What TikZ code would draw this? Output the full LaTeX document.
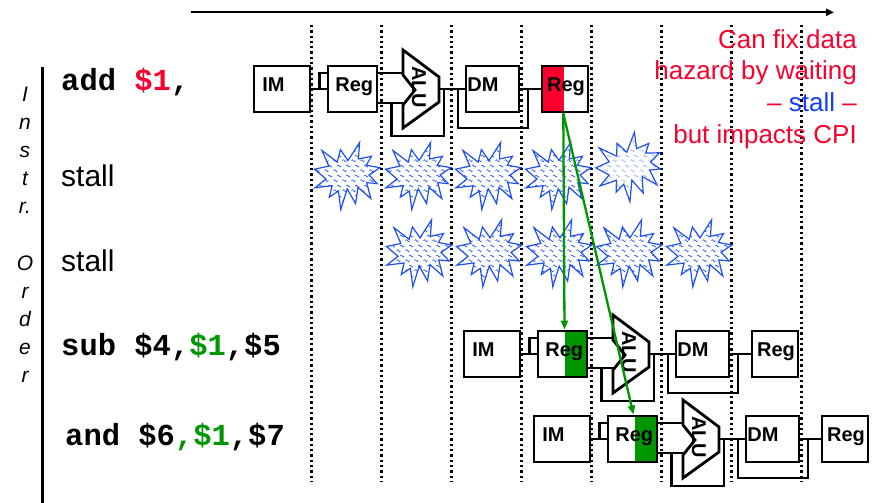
\documentclass[tikz,border=0pt]{standalone}
\usepackage{fontspec}
\setmainfont{Liberation Sans}
\newfontfamily\monofnt{Liberation Mono}
\usetikzlibrary{arrows.meta,patterns,calc}

\definecolor{hred}{RGB}{250,0,45}
\definecolor{hgreen}{RGB}{0,150,0}
\definecolor{bblue}{RGB}{30,80,240}
\definecolor{sblue}{RGB}{20,60,255}

\pgfdeclarepatternformonly{wavy}{\pgfqpoint{0pt}{0pt}}{\pgfqpoint{9pt}{10pt}}{\pgfqpoint{9pt}{10pt}}{%
  \pgfsetlinewidth{0.6pt}%
  \pgfpathmoveto{\pgfqpoint{0.5pt}{2.5pt}}%
  \pgfpathcurveto{\pgfqpoint{1.5pt}{4pt}}{\pgfqpoint{2.2pt}{4pt}}{\pgfqpoint{2.8pt}{2.5pt}}%
  \pgfpathcurveto{\pgfqpoint{3.4pt}{1pt}}{\pgfqpoint{4.1pt}{1pt}}{\pgfqpoint{5.1pt}{2.5pt}}%
  \pgfpathmoveto{\pgfqpoint{4.6pt}{7.5pt}}%
  \pgfpathcurveto{\pgfqpoint{5.6pt}{9pt}}{\pgfqpoint{6.3pt}{9pt}}{\pgfqpoint{6.9pt}{7.5pt}}%
  \pgfpathcurveto{\pgfqpoint{7.5pt}{6pt}}{\pgfqpoint{8.2pt}{6pt}}{\pgfqpoint{8.9pt}{7.5pt}}%
  \pgfusepath{stroke}%
}

\tikzset{
  pics/burst/.style={code={%
    \draw[bst] (0,-15.5) -- (11.6,-33.5) -- (10.4,-17) -- (23.5,-19.7) -- (18.3,-10.8)
      -- (31.9,-8.3) -- (21.1,-1) -- (29.2,7.7) -- (18.7,6.6) -- (22.8,22.6)
      -- (10,11.3) -- (7.6,27.7) -- (-0.8,12.8) -- (-7.2,33.5) -- (-9.6,15)
      -- (-18.7,21.2) -- (-15.9,9.7) -- (-33.1,11.8) -- (-22,3) -- (-33.5,-6.8)
      -- (-19.2,-9.9) -- (-26,-25.5) -- (-10.8,-13.9) -- (-7.6,-26.4) -- cycle;
  }}
}

\newcommand\pipeline[5]{%
\begin{scope}[shift={(#2,#3)}]
  \node[box, minimum width=56pt] (im#1) at (282,89) {};
  \node[box, minimum width=49pt, #4] (rf#1) at (352.5,89) {};
  \node[box, minimum width=53pt] (dm#1) at (492.5,89) {};
  \node[box, minimum width=46pt, #5] (wb#1) at (565,89) {};
  \coordinate (aluA#1) at (403,73);
  \coordinate (aluB#1) at (404,103);
  \coordinate (aluO#1) at (439,89);
  \coordinate (aluL#1) at (391.5,103);
  \coordinate (aluR#1) at (444,89);
  \coordinate (dmL#1) at (458,89);
  \coordinate (dmR#1) at (528,89);
  \draw[wire] (im#1.east) -- (rf#1.west);
  \draw[wire] ([xshift=-7pt]rf#1.west) |- ([yshift=16pt]rf#1.west);
  \draw[wire] ([yshift=16pt]rf#1.east) -- (aluA#1);
  \draw[wire] ([yshift=-14pt]rf#1.east) -- (aluB#1);
  \draw[wire] (aluL#1) -- ++(0,33) -| (aluR#1);
  \draw[wire] (aluO#1) -- (dm#1.west);
  \draw[wire] (dmL#1) -- ++(0,39) -| (dmR#1);
  \draw[wire] (dm#1.east) -- (wb#1.west);
  \draw[aluline] (403,50) -- (439,77) -- (439,102) -- (403,128) -- (403,105) -- (415,90) -- (403,75) -- cycle;
  \node[lbl, rotate=-90] (alu#1) at (419,87) {ALU};
  \node[lbl, anchor=base] (imt#1) at (273.5,91.5) {IM};
  \node[lbl, anchor=base] (rft#1) at (354.2,91.5) {Reg};
  \node[lbl, anchor=base] (dmt#1) at (483,91.5) {DM};
  \node[lbl, anchor=base] (wbt#1) at (566,91.5) {Reg};
\end{scope}}

\begin{document}
\begin{tikzpicture}[x=1pt,y=-1pt,
  box/.style={draw, line width=2.8pt, fill=white, inner sep=0pt, minimum height=46pt},
  wire/.style={line width=2.5pt},
  aluline/.style={draw, line width=2.8pt, fill=white, line join=miter},
  lbl/.style={font=\bfseries\fontsize{20}{20}\selectfont, inner sep=0pt},
  redleft/.style={path picture={\fill[hred] (path picture bounding box.north west) rectangle ([xshift=21.5pt]path picture bounding box.south west);}},
  greenright/.style={path picture={\fill[hgreen] ([xshift=-22pt]path picture bounding box.north east) rectangle (path picture bounding box.south east);}},
  dotline/.style={line width=2.3pt, dash pattern=on 2.3pt off 3pt},
  bst/.style={draw=bblue, line width=1.2pt, line join=miter, preaction={fill=white}, pattern=wavy},
  pattern color=bblue,
  garrow/.style={draw=hgreen, line width=2.3pt, -{Triangle[length=9pt,width=7pt]}},
  instr/.style={anchor=base west, inner sep=0pt, font=\monofnt\bfseries\fontsize{30.5}{30.5}\selectfont},
  plain/.style={anchor=base west, inner sep=0pt, font=\fontsize{30}{30}\selectfont},
  note/.style={anchor=base east, inner sep=0pt, text=hred, font=\fontsize{26}{26}\selectfont},
  ord/.style={anchor=base, inner sep=0pt, font=\itshape\fontsize{21}{21}\selectfont}
]
\useasboundingbox (0,0) rectangle (883,503);

% time axis
\coordinate (ta) at (190.5,12.3);
\coordinate (tb) at (834,12.3);
\draw[line width=2.3pt, -{Triangle[length=8pt,width=7pt]}] (ta) -- (tb);

% clock cycle separators
\foreach \k in {0,...,7} {
  \draw[dotline] (311.5+70*\k,25) -- (311.5+70*\k,482);
}

% instruction order axis
\coordinate (lt) at (42.7,67);
\coordinate (lb) at (42.7,503);
\draw[line width=2.5pt] (lt) -- (lb);
\foreach \ch [count=\i from 0] in {I,n,s,t,r.,{},O,r,d,e,r} {
  \node[ord] (ord\i) at (25,101.7+28.05*\i) {\ch};
}

% pipelines
\pipeline{1}{0}{0}{}{redleft}
\pipeline{4}{210}{265}{greenright}{}
\pipeline{5}{280}{350}{greenright}{}

% stall bubbles
\foreach \x in {348,419,489,559} { \pic at (\x,176) {burst}; }
\pic[rotate=12, pattern color=bblue!45] at (630,167.5) {burst};
\foreach \x in {420,490,560,630,700} { \pic at (\x,253.3) {burst}; }

% instructions
\node[instr] (i1) at (61,90.7) {add {\color{hred}\$1},};
\node[plain] (i2) at (61,186.7) {stall};
\node[plain] (i3) at (61,271.7) {stall};
\node[instr] (i4) at (61,355) {sub \$4,{\color{hgreen}\$1},\$5};
\node[instr] (i5) at (65,445) {and \$6{\color{hgreen},\$1},\$7};

% note
\node[note] (n1) at (857,48.5) {Can fix data};
\node[note] (n2) at (857,80) {hazard by waiting};
\node[note] (n3) at (857,111.5) {– {\color{sblue}stall} –};
\node[note] (n4) at (857,143) {but impacts CPI};

% forwarding of result
\coordinate (gs) at ([xshift=-1.7pt]wb1.south);
\draw[garrow] (gs) -- ([xshift=2pt]rf4.north);
\draw[garrow] (gs) -- ([xshift=1pt]rf5.north);
\end{tikzpicture}
\end{document}
